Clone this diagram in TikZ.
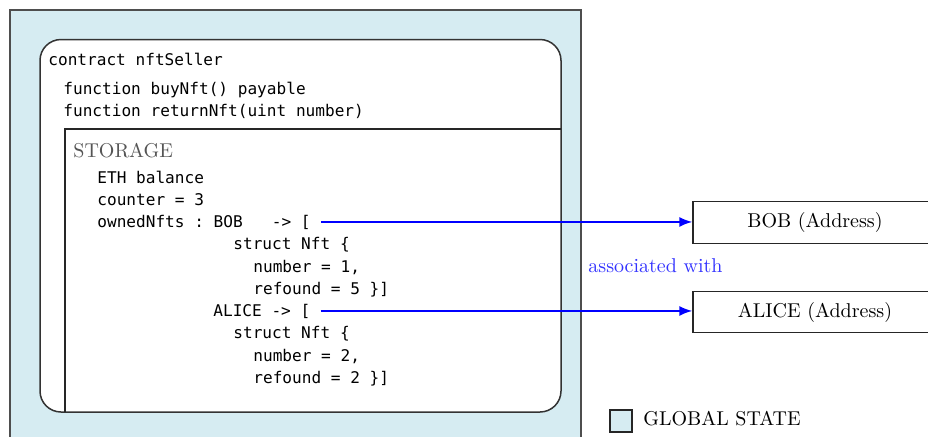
\documentclass[tikz,border=0pt]{standalone}
\usepackage{fontspec}
\setmonofont{DejaVu Sans Mono}
\usetikzlibrary{arrows.meta}

\definecolor{statefill}{RGB}{214,236,242}
\definecolor{framegray}{RGB}{78,78,78}
\definecolor{storegray}{RGB}{85,85,85}

\begin{document}
\begin{tikzpicture}[x=0.5pt,y=-0.5pt,
  code/.style={anchor=base west, inner sep=0pt,
    font=\ttfamily\fontsize{8.05}{10}\selectfont},
  serif/.style={inner sep=0pt, font=\fontsize{10}{12}\selectfont},
  address/.style={draw=black!85, line width=0.6pt, fill=white,
    minimum width=122pt, minimum height=20.75pt, inner sep=0pt,
    font=\fontsize{10}{12}\selectfont},
  link/.style={draw=blue, line width=1pt,
    -{Latex[length=6.5pt,width=5pt]}, shorten <=5pt}
]
\useasboundingbox (0,0) rectangle (928,436);
\clip (0,0) rectangle (928,436);

% global state area
\draw[fill=statefill, draw=framegray, line width=1pt] (9.5,10) rectangle (581,460);

% contract
\draw[fill=white, draw=black!80, line width=0.75pt, rounded corners=10.5pt]
  (40,39.5) rectangle (561,412);
% storage compartment
\draw[draw=black!85, line width=0.6pt] (561,129) -- (65,129) -- (65,412);

\node[code] (contract) at (48,65) {contract nftSeller};
\node[code] (buy) at (63,94) {function buyNft() payable};
\node[code] (ret) at (63,116) {function returnNft(uint number)};

\node[serif, anchor=base west, text=storegray] (storage) at (73,157) {STORAGE};

\node[code] (eth) at (97,183) {ETH balance};
\node[code] (counter) at (97,205) {counter = 3};
\node[code] (bobkey) at (97,227) {ownedNfts : BOB~~~-> [};
\node[code] (bobstruct) at (233,249) {struct Nft \{};
\node[code] (bobnum) at (253,272) {number = 1,};
\node[code] (bobref) at (253,294) {refound = 5 \}]};
\node[code] (alicekey) at (213,316) {ALICE -> [};
\node[code] (alicestruct) at (233,338) {struct Nft \{};
\node[code] (alicenum) at (253,361) {number = 2,};
\node[code] (aliceref) at (253,383) {refound = 2 \}]};

% addresses (they run on past the right edge)
\node[address] (bob) at (815,222.5) {BOB (Address)};
\node[address] (alice) at (815,312) {ALICE (Address)};

\draw[link] (bobkey.east) -- (bobkey.east -| bob.west);
\draw[link] (alicekey.east) -- (alicekey.east -| alice.west);

\node[serif, anchor=base west, text=blue!80] (assoc) at (588,272) {associated with};

% legend
\node[draw=black!85, line width=0.6pt, fill=statefill, minimum size=11pt, inner sep=0pt]
  (legendbox) at (621,421) {};
\node[serif, anchor=base west] (legendtext) at (643,425) {GLOBAL STATE};
\end{tikzpicture}
\end{document}
